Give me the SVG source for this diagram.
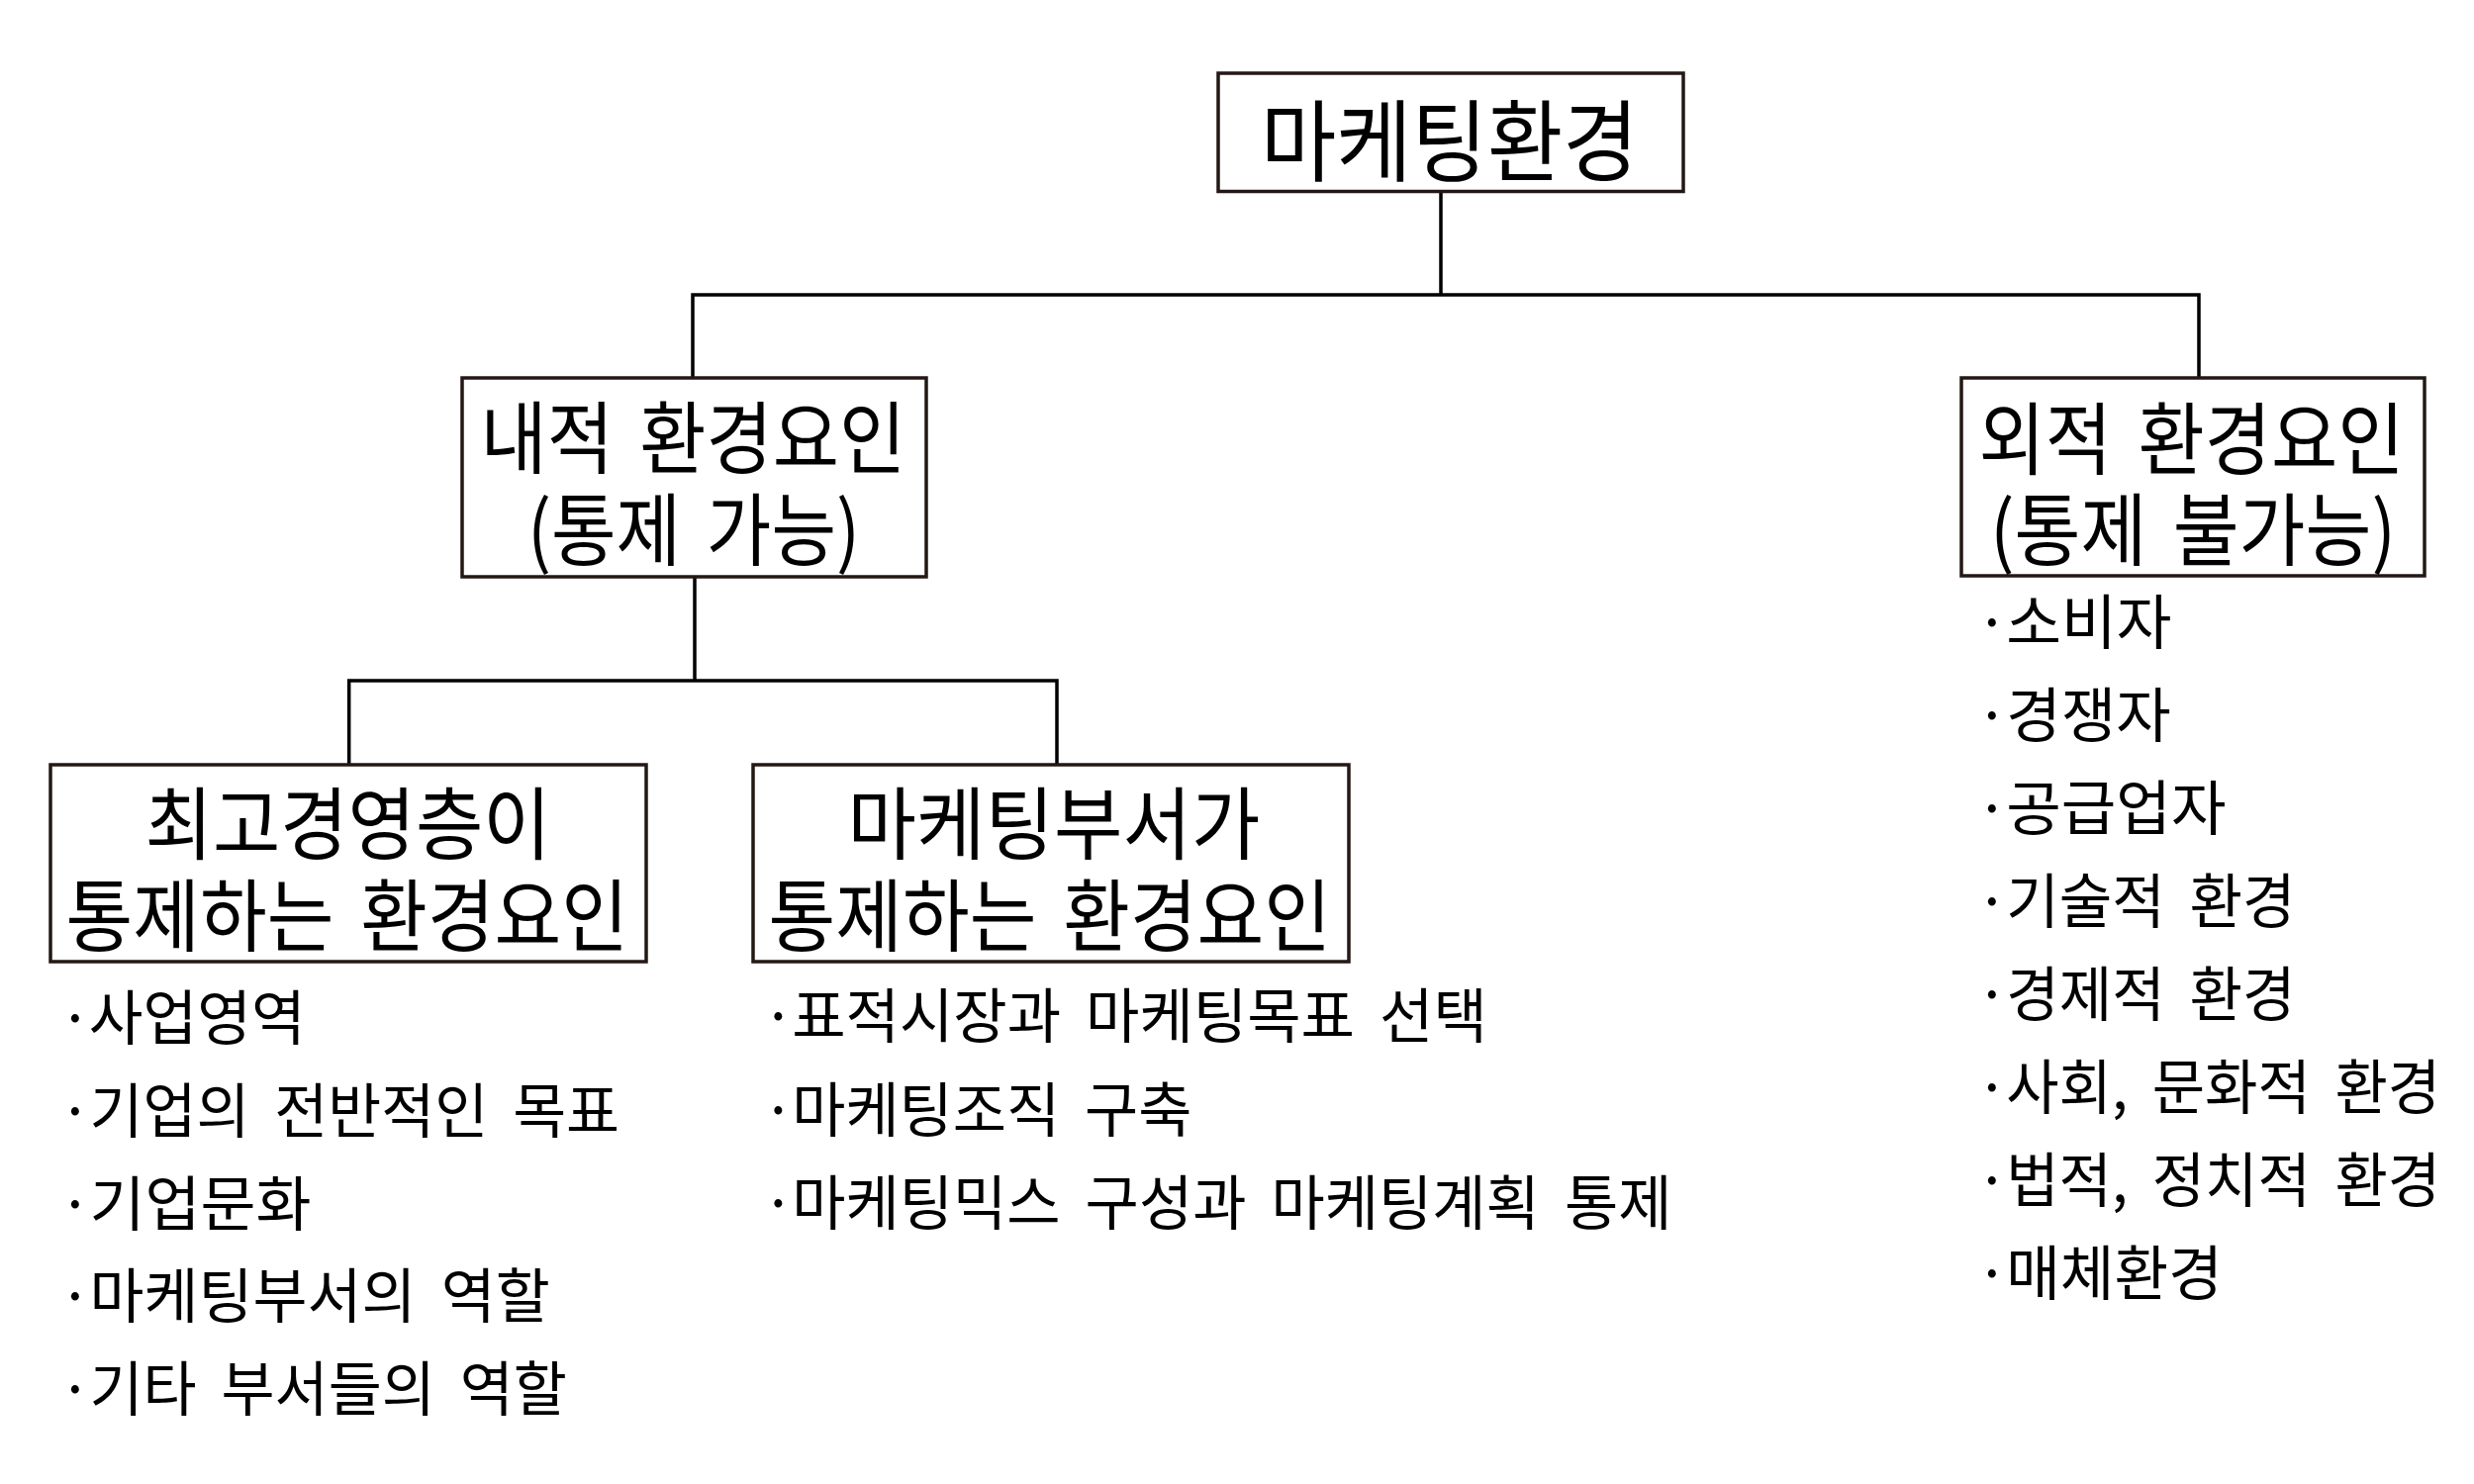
<svg xmlns="http://www.w3.org/2000/svg" width="2500" height="1500" viewBox="0 0 2500 1500">
<style>
  text { font-family: "Noto Sans CJK KR", "Noto Sans", sans-serif; fill: #000; }
  .t90 { font-size: 90px; }
  .t80 { font-size: 80px; word-spacing: 11px; }
  .li { font-size: 60px; word-spacing: 12px; }
  .box { fill: #fff; stroke: #231815; stroke-width: 3.5; }
  .conn { fill: none; stroke: #000; stroke-width: 3.5; }
</style>
<rect width="2500" height="1500" fill="#fff"/>

<g id="connectors">
  <path class="conn" d="M1456,194 V298 M700,382 V298 H2222 V382"/>
  <path class="conn" d="M702,583 V688 M352.7,773 V688 H1068 V773"/>
</g>

<g id="node-root">
  <rect class="box" x="1231" y="74" width="470" height="119.5"/>
  <text class="t90" x="1274" y="176" textLength="381.5" lengthAdjust="spacingAndGlyphs">마케팅환경</text>
</g>

<g id="node-internal">
  <rect class="box" x="467" y="382" width="469" height="201"/>
  <text class="t80" x="485.6" y="472" textLength="429.5" lengthAdjust="spacingAndGlyphs">내적 환경요인</text>
  <text class="t80" x="533" y="565" textLength="336" lengthAdjust="spacingAndGlyphs">(통제 가능)</text>
</g>

<g id="node-external">
  <rect class="box" x="1982" y="382" width="468" height="200"/>
  <text class="t80" x="1999.6" y="473" textLength="430" lengthAdjust="spacingAndGlyphs">외적 환경요인</text>
  <text class="t80" x="2011" y="565" textLength="410" lengthAdjust="spacingAndGlyphs">(통제 불가능)</text>
</g>

<g id="node-top-management">
  <rect class="box" x="51" y="773" width="602" height="199"/>
  <text class="t80" x="146.6" y="862" textLength="410" lengthAdjust="spacingAndGlyphs">최고경영층이</text>
  <text class="t80" x="66.6" y="955" textLength="568.5" lengthAdjust="spacingAndGlyphs">통제하는 환경요인</text>
</g>

<g id="node-marketing-dept">
  <rect class="box" x="761" y="773" width="602" height="199"/>
  <text class="t80" x="856.6" y="862" textLength="416.8" lengthAdjust="spacingAndGlyphs">마케팅부서가</text>
  <text class="t80" x="776.6" y="955" textLength="568.5" lengthAdjust="spacingAndGlyphs">통제하는 환경요인</text>
</g>

<g id="list-top-management">
  <text class="li" y="1051"><tspan x="76" text-anchor="middle">·</tspan><tspan x="89.7" textLength="219" lengthAdjust="spacingAndGlyphs">사업영역</tspan></text>
  <text class="li" y="1145"><tspan x="76" text-anchor="middle">·</tspan><tspan x="90.5" textLength="535.6" lengthAdjust="spacingAndGlyphs">기업의 전반적인 목표</tspan></text>
  <text class="li" y="1239"><tspan x="76" text-anchor="middle">·</tspan><tspan x="90.5" textLength="224" lengthAdjust="spacingAndGlyphs">기업문화</tspan></text>
  <text class="li" y="1332"><tspan x="76" text-anchor="middle">·</tspan><tspan x="90.5" textLength="465.3" lengthAdjust="spacingAndGlyphs">마케팅부서의 역할</tspan></text>
  <text class="li" y="1426"><tspan x="76" text-anchor="middle">·</tspan><tspan x="90.5" textLength="482.3" lengthAdjust="spacingAndGlyphs">기타 부서들의 역할</tspan></text>
</g>

<g id="list-marketing-dept">
  <text class="li" y="1049"><tspan x="786.5" text-anchor="middle">·</tspan><tspan x="800.2" textLength="702.6" lengthAdjust="spacingAndGlyphs">표적시장과 마케팅목표 선택</tspan></text>
  <text class="li" y="1144"><tspan x="786.5" text-anchor="middle">·</tspan><tspan x="800.2" textLength="404.3" lengthAdjust="spacingAndGlyphs">마케팅조직 구축</tspan></text>
  <text class="li" y="1238"><tspan x="786.5" text-anchor="middle">·</tspan><tspan x="800.2" textLength="889.3" lengthAdjust="spacingAndGlyphs">마케팅믹스 구성과 마케팅계획 통제</tspan></text>
</g>

<g id="list-external">
  <text class="li" y="651"><tspan x="2013" text-anchor="middle">·</tspan><tspan x="2027.2" textLength="167.3" lengthAdjust="spacingAndGlyphs">소비자</tspan></text>
  <text class="li" y="745"><tspan x="2013" text-anchor="middle">·</tspan><tspan x="2027.2" textLength="166.6" lengthAdjust="spacingAndGlyphs">경쟁자</tspan></text>
  <text class="li" y="839"><tspan x="2013" text-anchor="middle">·</tspan><tspan x="2027.2" textLength="222.3" lengthAdjust="spacingAndGlyphs">공급업자</tspan></text>
  <text class="li" y="933"><tspan x="2013" text-anchor="middle">·</tspan><tspan x="2027.2" textLength="292.3" lengthAdjust="spacingAndGlyphs">기술적 환경</tspan></text>
  <text class="li" y="1027"><tspan x="2013" text-anchor="middle">·</tspan><tspan x="2027.2" textLength="292.3" lengthAdjust="spacingAndGlyphs">경제적 환경</tspan></text>
  <text class="li" y="1121"><tspan x="2013" text-anchor="middle">·</tspan><tspan x="2027.2" textLength="439" lengthAdjust="spacingAndGlyphs">사회, 문화적 환경</tspan></text>
  <text class="li" y="1215"><tspan x="2013" text-anchor="middle">·</tspan><tspan x="2027.2" textLength="439" lengthAdjust="spacingAndGlyphs">법적, 정치적 환경</tspan></text>
  <text class="li" y="1309"><tspan x="2013" text-anchor="middle">·</tspan><tspan x="2027.2" textLength="218.6" lengthAdjust="spacingAndGlyphs">매체환경</tspan></text>
</g>
</svg>
